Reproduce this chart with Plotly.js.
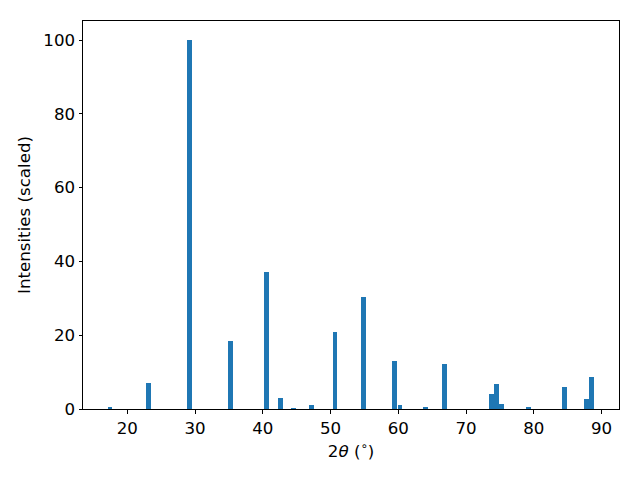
<!DOCTYPE html>
<html>
<head>
<meta charset="utf-8">
<script src="https://cdn.plot.ly/plotly-3.0.1.min.js"></script>
<style>html,body{margin:0;padding:0;background:#fff;}#chart{width:640px;height:480px;}</style>
</head>
<body>
<div id="chart"></div>
<script>
// Bar centers (2θ in degrees) and scaled intensities
const twoTheta = [17.45, 23.16, 29.13, 35.19, 40.6, 42.6, 44.5, 47.24, 50.66, 54.8,
                  59.48, 60.25, 63.98, 66.78, 73.79, 74.45, 75.19, 79.17, 84.48, 87.73, 88.47];
const intensity = [0.55, 7.0, 100, 18.4, 37.1, 3.0, 0.4, 1.1, 20.9, 30.35,
                   13.0, 1.1, 0.55, 12.2, 4.07, 6.78, 1.36, 0.55, 5.96, 2.7, 8.67];
const xTicks = [20, 30, 40, 50, 60, 70, 80, 90];
const yTicks = [0, 20, 40, 60, 80, 100];

const font = {family: 'DejaVu Sans, sans-serif', size: 16.67, color: '#000'};

Plotly.newPlot('chart', [{
  type: 'bar',
  x: twoTheta,
  y: intensity,
  width: 0.72,
  marker: {color: '#1f77b4', line: {width: 0}},
  hoverinfo: 'skip'
}], {
  width: 640, height: 480,
  margin: {l: 83, r: 21, t: 21, b: 71},
  paper_bgcolor: '#fff', plot_bgcolor: '#fff',
  font: font,
  showlegend: false,
  bargap: 0,
  xaxis: {
    range: [13.47, 92.57],
    tickvals: xTicks,
    ticktext: xTicks.map(String),
    ticks: 'outside', ticklen: 3.5, tickwidth: 1, tickcolor: '#000',
    showgrid: false, zeroline: false,
    showline: true, mirror: true, linecolor: '#000', linewidth: 1,
    tickfont: font,
    title: {text: '2<i>θ</i> (<sup>∘</sup>)', font: font, standoff: 8}
  },
  yaxis: {
    range: [0, 105.15],
    tickvals: yTicks,
    ticktext: yTicks.map(String),
    ticks: 'outside', ticklen: 3.5, tickwidth: 1, tickcolor: '#000',
    showgrid: false, zeroline: false,
    showline: true, mirror: true, linecolor: '#000', linewidth: 1,
    tickfont: font,
    title: {text: 'Intensities (scaled)', font: font, standoff: 8}
  }
}, {staticPlot: true});
</script>
</body>
</html>
